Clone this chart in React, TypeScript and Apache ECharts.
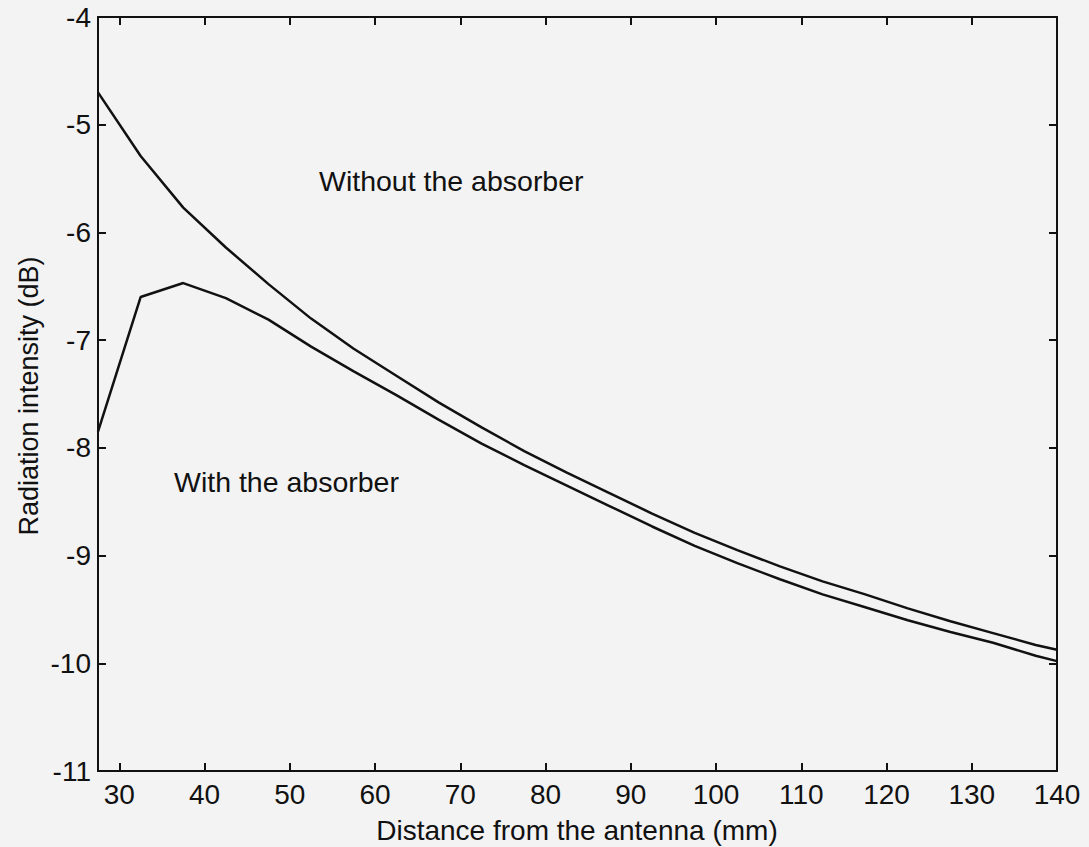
import React, { useEffect, useRef } from "react";
import * as echarts from "echarts";

const distances = [27.5, 32.5, 37.5, 42.5, 47.5, 52.5, 57.5, 62.5, 67.5, 72.5, 77.5, 82.5, 87.5, 92.5, 97.5, 102.5, 107.5, 112.5, 117.5, 122.5, 127.5, 132.5, 137.5, 140];
const withoutAbsorber = [-4.70, -5.29, -5.77, -6.14, -6.48, -6.80, -7.08, -7.33, -7.58, -7.81, -8.03, -8.23, -8.42, -8.61, -8.79, -8.95, -9.10, -9.24, -9.36, -9.49, -9.61, -9.72, -9.83, -9.875];
const withAbsorber = [-7.85, -6.60, -6.47, -6.61, -6.81, -7.06, -7.29, -7.51, -7.74, -7.96, -8.16, -8.35, -8.54, -8.73, -8.91, -9.07, -9.22, -9.36, -9.48, -9.60, -9.71, -9.81, -9.93, -9.98];
const xTicks = [30, 40, 50, 60, 70, 80, 90, 100, 110, 120, 130, 140];
const labelWithout = "Without the absorber";
const labelWith = "With the absorber";
const xName = "Distance from the antenna (mm)";
const yName = "Radiation intensity (dB)";

const FONT = "'Liberation Sans', Arial, Helvetica, sans-serif";

export default function App() {
  const ref = useRef<HTMLDivElement>(null);
  useEffect(() => {
    if (!ref.current) return;
    const chart = echarts.init(ref.current, undefined, { renderer: "svg" });
    const toPairs = (ys: number[]) => distances.map((x, i) => [x, ys[i]]);
    const axisLine = { show: true, lineStyle: { color: "#111", width: 2 } };
    const tick = { show: true, inside: true, length: 8, lineStyle: { color: "#111", width: 2 } };
    chart.setOption({
      animation: false,
      backgroundColor: "#f3f3f3",
      grid: { left: 98, right: 32, top: 17, bottom: 76, containLabel: false },
      xAxis: [
        {
          type: "value",
          min: 27.5,
          max: 140,
          position: "bottom",
          axisLine,
          axisTick: { ...tick, customValues: xTicks },
          axisLabel: {
            customValues: xTicks,
            color: "#111",
            fontSize: 28,
            fontFamily: FONT,
            margin: 9,
          },
          splitLine: { show: false },
        },
        {
          type: "value",
          min: 27.5,
          max: 140,
          position: "top",
          axisLine,
          axisTick: { ...tick, customValues: xTicks },
          axisLabel: { show: false, customValues: xTicks },
          splitLine: { show: false },
        },
      ],
      yAxis: [
        {
          type: "value",
          min: -11,
          max: -4,
          interval: 1,
          position: "left",
          axisLine,
          axisTick: tick,
          axisLabel: { color: "#111", fontSize: 28, fontFamily: FONT, margin: 7 },
          splitLine: { show: false },
        },
        {
          type: "value",
          min: -11,
          max: -4,
          interval: 1,
          position: "right",
          axisLine,
          axisTick: tick,
          axisLabel: { show: false },
          splitLine: { show: false },
        },
      ],
      series: [
        {
          name: labelWithout,
          type: "line",
          data: toPairs(withoutAbsorber),
          showSymbol: false,
          smooth: false,
          lineStyle: { color: "#111", width: 2.5 },
          xAxisIndex: 0,
          yAxisIndex: 0,
        },
        {
          name: labelWith,
          type: "line",
          data: toPairs(withAbsorber),
          showSymbol: false,
          smooth: false,
          lineStyle: { color: "#111", width: 2.5 },
          xAxisIndex: 0,
          yAxisIndex: 0,
        },
      ],
      graphic: [
        {
          type: "text",
          left: 319,
          top: 166,
          style: { text: labelWithout, fill: "#111", fontSize: 28.5, fontFamily: FONT },
        },
        {
          type: "text",
          left: 174,
          top: 467,
          style: { text: labelWith, fill: "#111", fontSize: 28.5, fontFamily: FONT },
        },
        {
          type: "text",
          x: 577,
          y: 830,
          style: {
            text: xName,
            fill: "#111",
            fontSize: 28,
            fontFamily: FONT,
            align: "center",
            verticalAlign: "middle",
          },
        },
        {
          type: "text",
          x: 29,
          y: 396,
          rotation: Math.PI / 2,
          style: {
            text: yName,
            fill: "#111",
            fontSize: 27,
            fontFamily: FONT,
            align: "center",
            verticalAlign: "middle",
          },
        },
      ],
    });
    return () => chart.dispose();
  }, []);
  return (
    <div
      ref={ref}
      style={{ position: "absolute", left: 0, top: 0, width: 1089, height: 847 }}
    />
  );
}
